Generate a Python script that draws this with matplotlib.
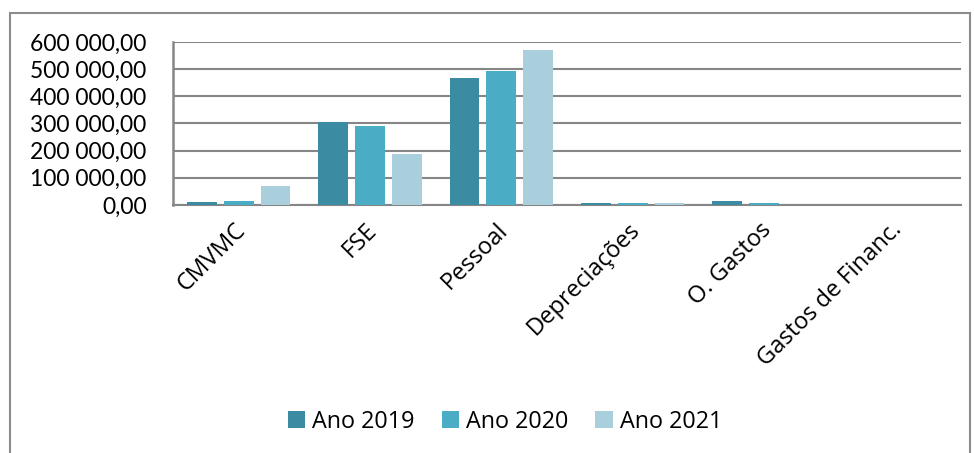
import matplotlib
matplotlib.use("Agg")
import matplotlib.pyplot as plt
from matplotlib.patches import Rectangle
import matplotlib.transforms as mtransforms
import numpy as np

categories = ["CMVMC", "FSE", "Pessoal", "Depreciações", "O. Gastos", "Gastos de Financ."]
series_names = ["Ano 2019", "Ano 2020", "Ano 2021"]
ano_2019 = [11000, 305000, 468000, 8000, 13000, 0]
ano_2020 = [13000, 291000, 493000, 8000, 8000, 0]
ano_2021 = [69000, 187000, 570000, 9000, 1000, 0]
colors = ["#3B8BA3", "#4BACC6", "#A9CFDD"]
yticks = [0, 100000, 200000, 300000, 400000, 500000, 600000]
ytick_labels = ["0,00", "100 000,00", "200 000,00", "300 000,00", "400 000,00", "500 000,00", "600 000,00"]

plt.rcParams['font.family'] = ['Lato', 'DejaVu Sans']

W, H = 974, 453
fig = plt.figure(figsize=(W / 100, H / 100), dpi=100)
ax = fig.add_axes([173 / W, 1 - 205 / H, (961 - 173) / W, (205 - 42) / H])

x = np.arange(len(categories))
bw = 0.227
off = 0.28
for i, (vals, name, c) in enumerate(zip([ano_2019, ano_2020, ano_2021], series_names, colors)):
    ax.bar(x + (i - 1) * off, vals, width=bw, color=c, label=name, zorder=3)

ax.set_xlim(-0.5, len(categories) - 0.5)
ax.set_ylim(0, 600000)
ax.set_yticks(yticks)
ax.set_yticklabels(ytick_labels, fontsize=16.5)
ax.yaxis.grid(True, color="#868686", linewidth=1.5, zorder=0)
ax.set_axisbelow(True)

for s in ["top", "right"]:
    ax.spines[s].set_visible(False)
ax.spines["left"].set_color("#868686")
ax.spines["left"].set_linewidth(1.8)
ax.spines["bottom"].set_color("#868686")
ax.spines["bottom"].set_linewidth(1.5)
ax.tick_params(axis="y", length=0, pad=19)
ax.tick_params(axis="x", length=0, pad=0)

ax.set_xticks(x)
ax.set_xticklabels(categories, rotation=45, ha="right", va="top", rotation_mode="anchor",
                   fontsize=17, family=['Open Sans', 'DejaVu Sans'])
for lbl in ax.get_xticklabels():
    lbl.set_transform(lbl.get_transform() + mtransforms.ScaledTranslation(-5 / 100, -13 / 100, fig.dpi_scale_trans))

leg = fig.legend(loc="center", bbox_to_anchor=(505 / W, 1 - 422 / H), ncol=3, frameon=False,
                 handlelength=0.75, handleheight=0.75, handletextpad=0.3,
                 columnspacing=1.15, prop={'family': ['Open Sans', 'DejaVu Sans'], 'size': 16.8})

fig.patches.append(Rectangle((10 / W, -0.1), 960 / W, 1.1 - 13 / H, transform=fig.transFigure,
                             fill=False, edgecolor="#8C8C8C", linewidth=1.5))

fig.savefig("out.png", dpi=100)
